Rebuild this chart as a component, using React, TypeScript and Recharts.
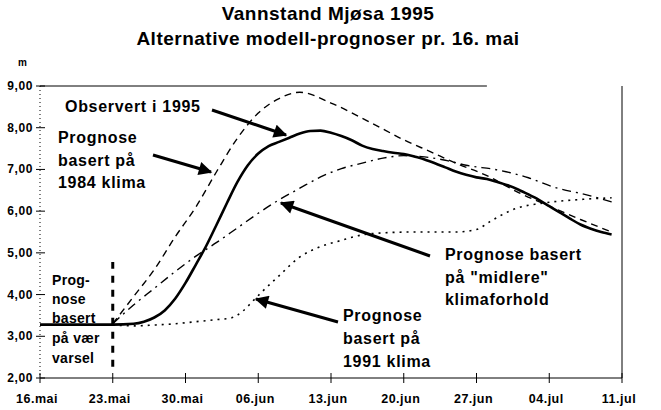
import React from 'react';
import { LineChart, Line, XAxis, YAxis, ReferenceLine } from 'recharts';

// days after 16. mai
const dayTicks = [0, 7, 14, 21, 28, 35, 42, 49, 56];
const dayLabels = ['16.mai', '23.mai', '30.mai', '06.jun', '13.jun', '20.jun', '27.jun', '04.jul', '11.jul'];
const levelTicks = [2, 3, 4, 5, 6, 7, 8, 9];

const observedDays = [0, 7, 9, 10, 11, 12, 13, 14, 15, 16, 17, 18, 19, 20, 21, 22, 23, 24, 25, 26, 27, 28, 29, 30, 31, 32, 33, 34, 35, 36, 37, 38, 39, 40, 41, 42, 43, 44, 45, 46, 47, 48, 49, 50, 51, 52, 53, 54, 55];
const observedLevels = [3.28, 3.28, 3.3, 3.35, 3.45, 3.62, 3.9, 4.28, 4.72, 5.17, 5.68, 6.2, 6.7, 7.1, 7.38, 7.56, 7.66, 7.76, 7.86, 7.92, 7.93, 7.88, 7.8, 7.7, 7.57, 7.49, 7.44, 7.4, 7.37, 7.31, 7.24, 7.15, 7.05, 6.95, 6.87, 6.81, 6.77, 6.7, 6.62, 6.52, 6.4, 6.27, 6.12, 5.97, 5.82, 5.68, 5.58, 5.5, 5.44];

const klima1984Days = [7, 9, 11, 13, 15, 17, 19, 21, 23, 25, 28, 32, 35, 37.6, 40, 43, 46, 49, 52, 55];
const klima1984Levels = [3.3, 3.95, 4.6, 5.38, 6.1, 6.95, 7.75, 8.35, 8.7, 8.85, 8.59, 8.1, 7.71, 7.42, 7.15, 6.85, 6.45, 6.12, 5.8, 5.5];

const midlereDays = [7, 9, 11, 13, 15, 17, 19, 21, 23, 25, 27, 29, 31, 33, 35, 37, 39, 41, 44, 47, 49.4, 52.6, 55];
const midlereLevels = [3.3, 3.75, 4.15, 4.55, 4.92, 5.25, 5.6, 5.95, 6.27, 6.55, 6.82, 7.02, 7.15, 7.27, 7.33, 7.3, 7.22, 7.1, 6.99, 6.8, 6.58, 6.39, 6.22];

const klima1991Days = [7, 9, 11, 13, 15, 17, 18.4, 19.5, 20.5, 21.5, 23, 25, 27, 29, 31, 33, 36, 40, 42, 43.3, 45, 46, 48, 50, 52, 55];
const klima1991Levels = [3.27, 3.25, 3.27, 3.3, 3.35, 3.4, 3.44, 3.6, 3.85, 4.1, 4.45, 4.9, 5.15, 5.3, 5.43, 5.48, 5.5, 5.5, 5.56, 5.75, 5.98, 6.08, 6.18, 6.24, 6.28, 6.32];

const toPoints = (days: number[], levels: number[]) => days.map((d, i) => ({ day: d, level: levels[i] }));

const FONT = '"Liberation Sans", Arial, sans-serif';
const fmtLevel = (v: number) => v.toFixed(2).replace('.', ',');

const BottomTick = (props: any) => {
  const { x, y, payload } = props;
  const i = dayTicks.indexOf(payload.value);
  return (
    <g>
      <line x1={x} x2={x} y1={y - 5} y2={y + 5} stroke="#000" strokeWidth={1} />
      <text x={x - 3} y={y + 25} textAnchor="middle" fontFamily={FONT} fontWeight="bold" fontSize={12.5} letterSpacing={0.5} fill="#000">
        {dayLabels[i]}
      </text>
    </g>
  );
};

const LeftTick = (props: any) => {
  const { x, y, payload } = props;
  return (
    <g>
      <line x1={x - 4} x2={x + 5} y1={y} y2={y} stroke="#000" strokeWidth={1} />
      <text x={x - 7} y={y + 4} textAnchor="end" fontFamily={FONT} fontWeight="bold" fontSize={12} letterSpacing={0.6} fill="#000">
        {fmtLevel(payload.value)}
      </text>
    </g>
  );
};

const RightTick = (props: any) => {
  const { x, y, payload } = props;
  return (
    <g>
      <line x1={x - 4} x2={x + 3} y1={y} y2={y} stroke="#000" strokeWidth={1} />
      <text x={x + 12} y={y + 4} textAnchor="start" fontFamily={FONT} fontWeight="bold" fontSize={12} letterSpacing={0.4} fill="#000">
        {fmtLevel(payload.value)}
      </text>
    </g>
  );
};

const labelStyle: React.CSSProperties = { fontFamily: FONT, fontWeight: 'bold', fontSize: 16, letterSpacing: 0.7, fill: '#000' };
const smallLabel: React.CSSProperties = { fontFamily: FONT, fontWeight: 'bold', fontSize: 14, letterSpacing: 0.3, fill: '#000' };
const titleStyle: React.CSSProperties = { fontFamily: FONT, fontWeight: 'bold', fontSize: 19, letterSpacing: 0.5, fill: '#000' };

const Annotations: React.FC = () => (
  <svg width={661} height={410} style={{ position: 'absolute', left: 0, top: 0, pointerEvents: 'none' }}>
    <defs>
      <marker id="head" viewBox="0 0 10 10" refX="9" refY="5" markerWidth="5" markerHeight="4.5" orient="auto" markerUnits="strokeWidth">
        <path d="M0,0 L10,5 L0,10 z" fill="#000" />
      </marker>
    </defs>
    <text x={328} y={20} textAnchor="middle" style={titleStyle}>Vannstand Mjøsa 1995</text>
    <text x={328} y={45} textAnchor="middle" style={titleStyle}>Alternative modell-prognoser pr. 16. mai</text>
    <text x={18} y={66} style={{ ...smallLabel, fontSize: 10 }}>m</text>

    <text x={65} y={112} style={labelStyle}>Observert i 1995</text>
    <line x1={212} y1={110} x2={286} y2={135} stroke="#000" strokeWidth={3} markerEnd="url(#head)" />

    <text x={58} y={143} style={labelStyle}>Prognose</text>
    <text x={58} y={166} style={labelStyle}>basert på</text>
    <text x={58} y={188} style={labelStyle}>1984 klima</text>
    <line x1={153} y1={155} x2={211} y2={172} stroke="#000" strokeWidth={3} markerEnd="url(#head)" />

    <text x={445} y={260} style={labelStyle}>Prognose basert</text>
    <text x={445} y={283} style={labelStyle}>på "midlere"</text>
    <text x={445} y={305} style={labelStyle}>klimaforhold</text>
    <line x1={430} y1={256} x2={281} y2={203} stroke="#000" strokeWidth={3} markerEnd="url(#head)" />

    <text x={343} y={321} style={labelStyle}>Prognose</text>
    <text x={343} y={344} style={labelStyle}>basert på</text>
    <text x={343} y={367} style={labelStyle}>1991 klima</text>
    <line x1={338} y1={322} x2={256} y2={299} stroke="#000" strokeWidth={3} markerEnd="url(#head)" />

    <text x={52} y={285} style={smallLabel}>Prog-</text>
    <text x={52} y={304} style={smallLabel}>nose</text>
    <text x={52} y={323} style={smallLabel}>basert</text>
    <text x={52} y={343} style={smallLabel}>på vær</text>
    <text x={52} y={363} style={smallLabel}>varsel</text>
  </svg>
);

const App: React.FC = () => {
  return (
    <div style={{ position: 'absolute', left: 0, top: 0, width: 661, height: 410, background: '#fff' }}>
      <LineChart width={661} height={410} margin={{ top: 86, right: 0, bottom: 0, left: 0 }}>
        <XAxis
          dataKey="day"
          type="number"
          domain={[0, 56]}
          ticks={dayTicks}
          height={32}
          tickSize={0}
          tickMargin={0}
          tickLine={false}
          axisLine={{ stroke: '#000', strokeWidth: 1 }}
          tick={<BottomTick />}
          allowDuplicatedCategory={false}
        />
        <YAxis
          yAxisId="left"
          orientation="left"
          type="number"
          domain={[2, 9]}
          ticks={levelTicks}
          width={40}
          tickSize={0}
          tickMargin={0}
          tickLine={false}
          axisLine={{ stroke: '#000', strokeWidth: 1, strokeDasharray: '1 3' }}
          tick={<LeftTick />}
        />
        <YAxis
          yAxisId="right"
          orientation="right"
          type="number"
          domain={[2, 9]}
          ticks={levelTicks}
          width={39}
          tickSize={0}
          tickMargin={0}
          tickLine={false}
          axisLine={{ stroke: '#000', strokeWidth: 1 }}
          tick={<RightTick />}
        />
        <ReferenceLine yAxisId="left" segment={[{ x: 0, y: 9 }, { x: 43, y: 9 }]} stroke="#000" strokeWidth={1} />
        <ReferenceLine yAxisId="left" segment={[{ x: 7, y: 2.27 }, { x: 7, y: 4.78 }]} stroke="#000" strokeWidth={3} strokeDasharray="7 7" />
        <Line yAxisId="left" data={toPoints(klima1991Days, klima1991Levels)} dataKey="level" type="monotone" stroke="#000" strokeWidth={1.6} strokeDasharray="2 5" dot={false} isAnimationActive={false} />
        <Line yAxisId="left" data={toPoints(midlereDays, midlereLevels)} dataKey="level" type="monotone" stroke="#000" strokeWidth={1.4} strokeDasharray="9 5 2 5" dot={false} isAnimationActive={false} />
        <Line yAxisId="left" data={toPoints(klima1984Days, klima1984Levels)} dataKey="level" type="monotone" stroke="#000" strokeWidth={1.4} strokeDasharray="7 5" dot={false} isAnimationActive={false} />
        <Line yAxisId="left" data={toPoints(observedDays, observedLevels)} dataKey="level" type="monotone" stroke="#000" strokeWidth={2.6} dot={false} isAnimationActive={false} />
      </LineChart>
      <Annotations />
    </div>
  );
};

export default App;
